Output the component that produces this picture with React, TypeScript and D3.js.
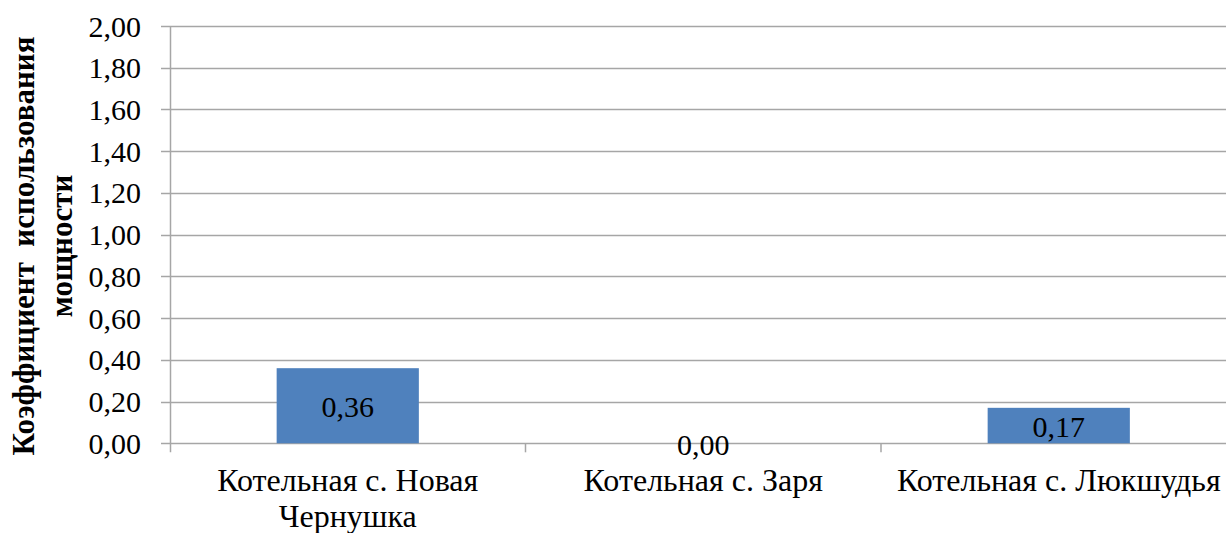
import React from "react";
import * as d3 from "d3";

const categories: string[][] = [
  ["Котельная с. Новая", "Чернушка"],
  ["Котельная с. Заря"],
  ["Котельная с. Люкшудья"],
];
const values: number[] = [0.36, 0.0, 0.17];
const yTicks: number[] = [0, 0.2, 0.4, 0.6, 0.8, 1.0, 1.2, 1.4, 1.6, 1.8, 2.0];
const titleLines: string[] = ["Коэффициент  использования", "мощности"];

const W = 1226;
const H = 533;
const FONT = "Liberation Serif, Times New Roman, serif";
const fmt = (v: number) => v.toFixed(2).replace(".", ",");

export default function App() {
  const axisX = 170;
  const step = 355.5;
  const keys = categories.map((_, i) => String(i));
  const x = d3
    .scaleBand<string>()
    .domain(keys)
    .range([axisX, axisX + step * keys.length])
    .paddingInner(0.6)
    .paddingOuter(0.3);
  const y = d3.scaleLinear().domain([0, 2]).range([443.3, 26]);

  return (
    <svg
      width={W}
      height={H}
      style={{ position: "absolute", left: 0, top: 0, background: "#fff" }}
      fontFamily={FONT}
    >
      {/* horizontal gridlines with left tick marks */}
      {yTicks.map((t) => (
        <g key={t}>
          <line
            x1={axisX - 9}
            x2={W}
            y1={Math.round(y(t)) + 0.5}
            y2={Math.round(y(t)) + 0.5}
            stroke="#a6a6a6"
            strokeWidth={1.5}
          />
          <text
            x={141}
            y={y(t)}
            textAnchor="end"
            dominantBaseline="central"
            fontSize={30}
            fill="#000"
          >
            {fmt(t)}
          </text>
        </g>
      ))}
      {/* y axis */}
      <line
        x1={axisX + 0.5}
        x2={axisX + 0.5}
        y1={y(2)}
        y2={y(0) + 9}
        stroke="#a6a6a6"
        strokeWidth={1.5}
      />
      {/* category separators */}
      {keys.slice(1).map((k, i) => {
        const bx = axisX + step * (i + 1);
        return (
          <line
            key={k}
            x1={bx}
            x2={bx}
            y1={y(0)}
            y2={y(0) + 9}
            stroke="#a6a6a6"
            strokeWidth={1.5}
          />
        );
      })}
      {/* bars */}
      {values.map((v, i) => (
        <rect
          key={i}
          x={x(keys[i])!}
          y={y(v)}
          width={x.bandwidth()}
          height={y(0) - y(v)}
          fill="#4f81bd"
        />
      ))}
      {/* value labels */}
      {values.map((v, i) => (
        <text
          key={i}
          x={x(keys[i])! + x.bandwidth() / 2}
          y={(y(v) + y(0)) / 2 + 1}
          textAnchor="middle"
          dominantBaseline="central"
          fontSize={30}
          fill="#000"
        >
          {fmt(v)}
        </text>
      ))}
      {/* category labels */}
      {categories.map((lines, i) => (
        <text
          key={i}
          x={x(keys[i])! + x.bandwidth() / 2}
          y={491}
          textAnchor="middle"
          fontSize={32}
          fill="#000"
        >
          {lines.map((l, j) => (
            <tspan key={j} x={x(keys[i])! + x.bandwidth() / 2} dy={j === 0 ? 0 : 36}>
              {l}
            </tspan>
          ))}
        </text>
      ))}
      {/* y axis title */}
      <text
        transform="translate(34,246) rotate(-90)"
        textAnchor="middle"
        fontSize={31}
        fontWeight="bold"
        fill="#000"
        style={{ whiteSpace: "pre" }}
      >
        {titleLines.map((l, j) => (
          <tspan key={j} x={0} dy={j === 0 ? 0 : 38}>
            {l}
          </tspan>
        ))}
      </text>
    </svg>
  );
}
